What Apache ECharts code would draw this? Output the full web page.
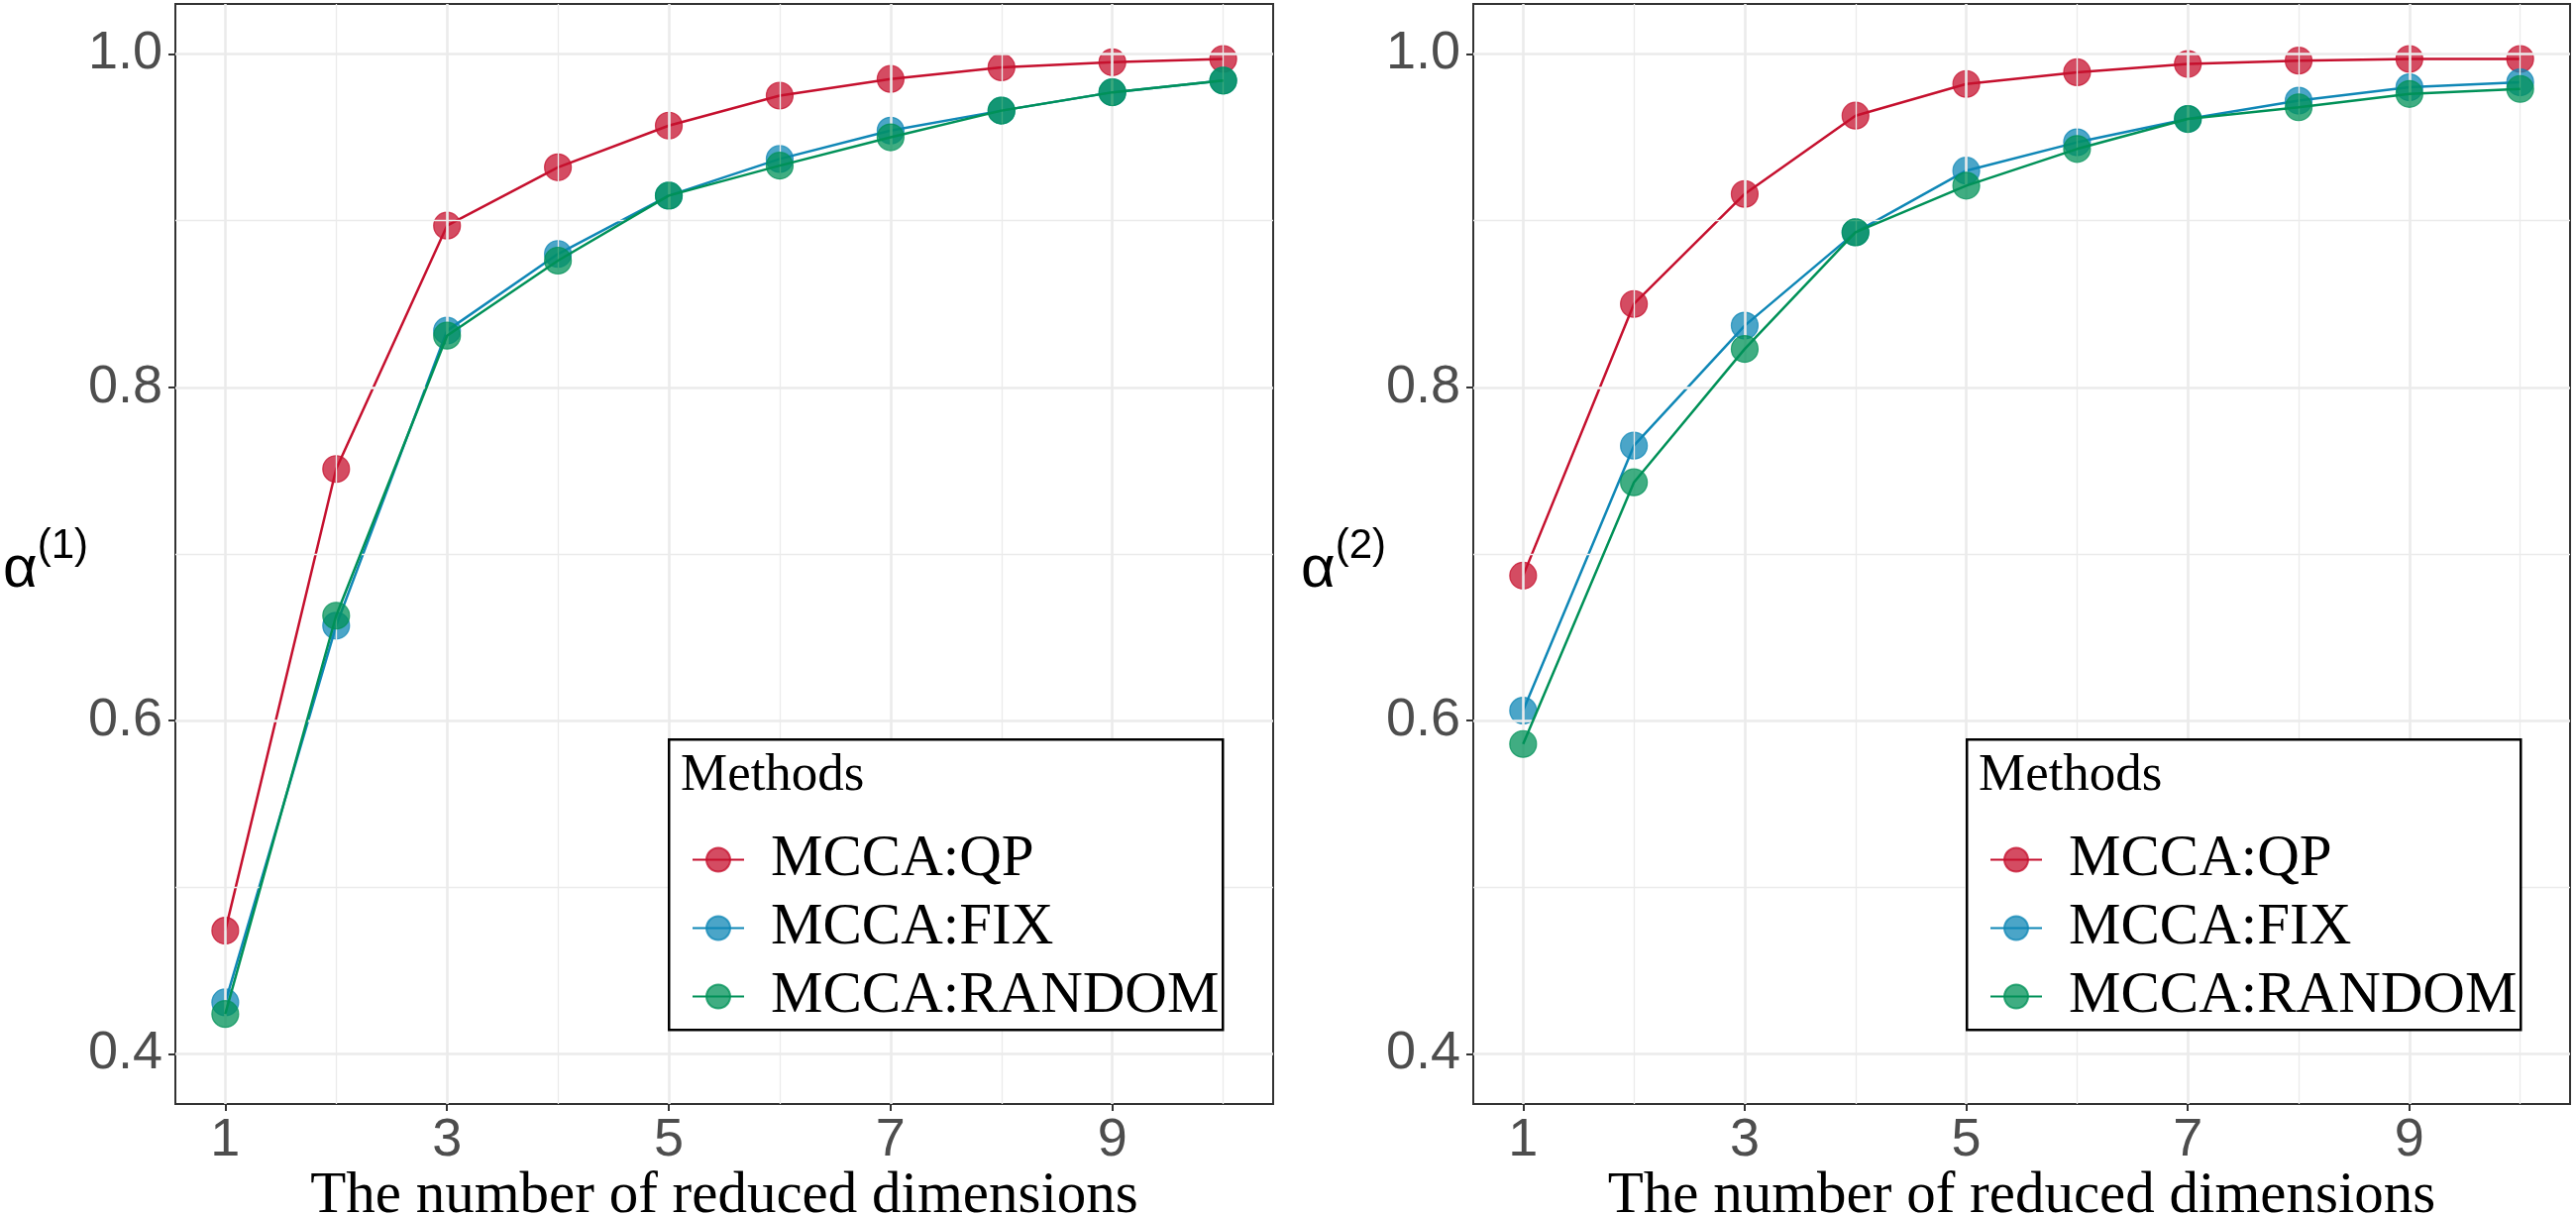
<!DOCTYPE html>
<html><head><meta charset="utf-8">
<script src="https://cdn.jsdelivr.net/npm/echarts@6/dist/echarts.min.js"></script>
<style>html,body{margin:0;padding:0;background:#fff}#c{width:2600px;height:1226px}</style>
</head><body><div id="c"></div>
<script>
// ---- data ----
const dims = [1, 2, 3, 4, 5, 6, 7, 8, 9, 10];
const methods = ['MCCA:QP', 'MCCA:FIX', 'MCCA:RANDOM'];
const alpha1QP     = [0.474, 0.751, 0.897, 0.932, 0.957, 0.975, 0.985, 0.992, 0.995, 0.997];
const alpha1FIX    = [0.431, 0.657, 0.834, 0.880, 0.915, 0.937, 0.954, 0.966, 0.977, 0.984];
const alpha1RANDOM = [0.424, 0.663, 0.831, 0.876, 0.915, 0.933, 0.950, 0.966, 0.977, 0.984];
const alpha2QP     = [0.687, 0.850, 0.916, 0.963, 0.982, 0.989, 0.994, 0.996, 0.997, 0.997];
const alpha2FIX    = [0.606, 0.765, 0.837, 0.893, 0.930, 0.947, 0.961, 0.972, 0.980, 0.983];
const alpha2RANDOM = [0.586, 0.743, 0.823, 0.893, 0.921, 0.943, 0.961, 0.968, 0.976, 0.979];
const xMajorTicks = [1, 3, 5, 7, 9];
const xMinorGrid = [2, 4, 6, 8, 10];
const yMajorTicks = [0.4, 0.6, 0.8, 1.0];
const yMinorGrid = [0.5, 0.7, 0.9];
const ySuperscripts = ['(1)', '(2)'];
const xTitle = 'The number of reduced dimensions';
const legendTitle = 'Methods';

// ---- styles ----
const colors = ['#C5102E', '#0F87B6', '#009158'];
const SANS = 'Liberation Sans';
const SERIF = 'Liberation Serif';
const panels = [
  { left: 177, width: 1108, values: [alpha1QP, alpha1FIX, alpha1RANDOM] },
  { left: 1487, width: 1107, values: [alpha2QP, alpha2FIX, alpha2RANDOM] }
];
const gridTop = 4, gridHeight = 1110;

const grid = [], xAxis = [], yAxis = [], series = [], legend = [], graphic = [];
panels.forEach((p, i) => {
  grid.push({ left: p.left, top: gridTop, width: p.width, height: gridHeight, show: true,
    borderColor: '#333333', borderWidth: 2, backgroundColor: 'transparent' });
  xAxis.push({ type: 'value', gridIndex: i, min: 0.55, max: 10.45,
    axisLine: { show: false }, splitLine: { show: false },
    axisTick: { show: true, customValues: xMajorTicks, length: 7, lineStyle: { color: '#333333', width: 2 } },
    axisLabel: { customValues: xMajorTicks, fontSize: 54, color: '#4D4D4D', fontFamily: SANS, margin: 10 } });
  yAxis.push({ type: 'value', gridIndex: i, min: 0.37, max: 1.03,
    axisLine: { show: false }, splitLine: { show: false },
    axisTick: { show: true, customValues: yMajorTicks, length: 7, lineStyle: { color: '#333333', width: 2 } },
    axisLabel: { customValues: yMajorTicks, fontSize: 54, color: '#4D4D4D', fontFamily: SANS, margin: 13,
      formatter: v => Number(v).toFixed(1) } });
  const gl = [];
  xMajorTicks.forEach(v => gl.push({ xAxis: v, lineStyle: { color: '#EBEBEB', width: 2.6, type: 'solid' } }));
  xMinorGrid.forEach(v => gl.push({ xAxis: v, lineStyle: { color: '#EBEBEB', width: 1.3, type: 'solid' } }));
  yMajorTicks.forEach(v => gl.push({ yAxis: v, lineStyle: { color: '#EBEBEB', width: 2.6, type: 'solid' } }));
  yMinorGrid.forEach(v => gl.push({ yAxis: v, lineStyle: { color: '#EBEBEB', width: 1.3, type: 'solid' } }));
  series.push({ type: 'line', name: 'grid' + i, xAxisIndex: i, yAxisIndex: i, data: [], z: 1, silent: true,
    animation: false,
    markLine: { symbol: 'none', silent: true, animation: false, label: { show: false },
      emphasis: { disabled: true }, data: gl } });
  methods.forEach((m, k) => {
    series.push({ type: 'line', name: m, xAxisIndex: i, yAxisIndex: i, z: 3 + k,
      data: dims.map((d, j) => [d, p.values[k][j]]),
      symbol: 'circle', symbolSize: 27, animation: false,
      lineStyle: { color: colors[k], width: 2.5 },
      itemStyle: { color: colors[k], opacity: 0.75, borderColor: colors[k], borderWidth: 1.2 },
      emphasis: { disabled: true } });
  });
  const boxLeft = p.left + 497;
  graphic.push({ type: 'rect', left: boxLeft, top: 745, z: 10,
    shape: { width: 559, height: 293 }, style: { fill: '#fff', stroke: '#000', lineWidth: 2.5 } });
  graphic.push({ type: 'text', left: boxLeft + 13, top: 757, z: 11,
    style: { text: legendTitle, font: '53px "' + SERIF + '"', fill: '#000' } });
  legend.push({ data: methods, orient: 'vertical', left: boxLeft + 19, top: 833, z: 12,
    itemWidth: 52, itemHeight: 30, itemGap: 10, selectedMode: false,
    textStyle: { fontFamily: SERIF, fontSize: 59, color: '#000', padding: [0, 0, 0, 22] } });
  graphic.push({ type: 'text', x: p.left + p.width / 2, y: 1207, z: 11,
    style: { text: xTitle, font: '59px "' + SERIF + '"', fill: '#000', align: 'center', verticalAlign: 'middle' } });
  graphic.push({ type: 'text', x: p.left - 174, y: 568, z: 11,
    style: { text: '{a|α}{s|' + ySuperscripts[i] + '}', align: 'left', verticalAlign: 'middle',
      rich: { a: { fontSize: 60, fontFamily: SANS, lineHeight: 75, verticalAlign: 'bottom', fill: '#000' },
              s: { fontSize: 42, fontFamily: SANS, lineHeight: 42, verticalAlign: 'top', fill: '#000' } } } });
});

const chart = echarts.init(document.getElementById('c'), null, { renderer: 'canvas' });
chart.setOption({ backgroundColor: '#fff', animation: false, grid, xAxis, yAxis, series, legend, graphic });
</script></body></html>
